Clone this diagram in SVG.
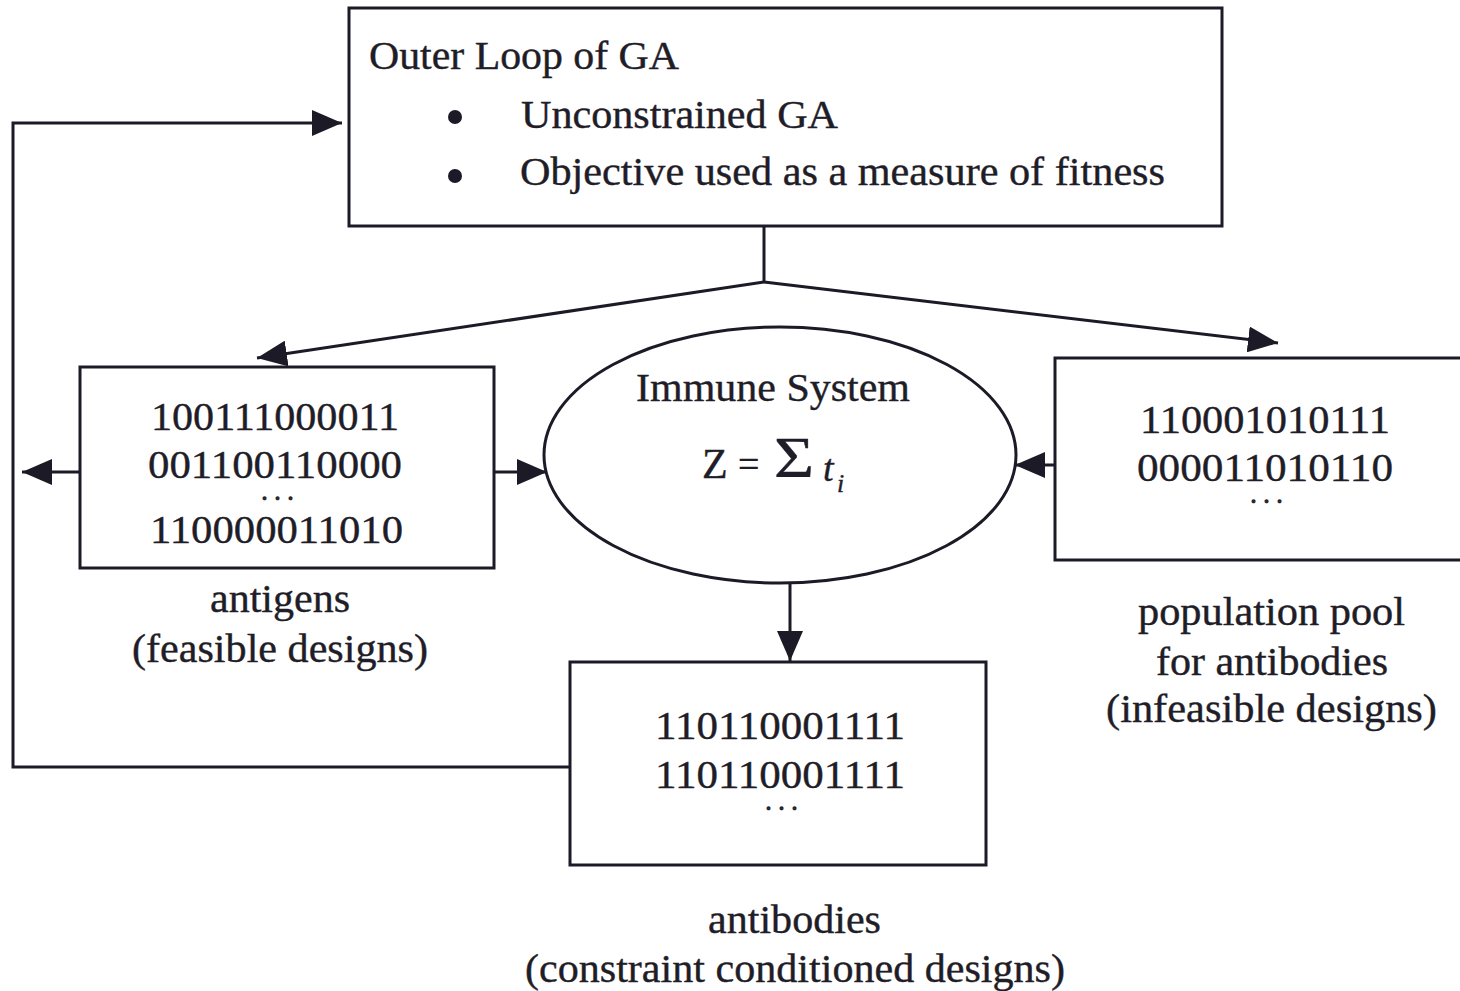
<svg xmlns="http://www.w3.org/2000/svg" width="1460" height="991" viewBox="0 0 1460 991">
  <defs>
    <marker id="arrow" viewBox="0 0 30 26" refX="30" refY="13" markerWidth="30" markerHeight="26" markerUnits="userSpaceOnUse" orient="auto">
      <path d="M0,0 L30,13 L0,26 Z" fill="#1c1a26"/>
    </marker>
    <style>
      .box { fill: #ffffff; stroke: #1c1a26; stroke-width: 3; }
      .line { fill: none; stroke: #1c1a26; stroke-width: 3; }
      .t { font-family: "Liberation Serif", "Times New Roman", serif; fill: #1f1d28; stroke: #1f1d28; stroke-width: 0.4; }
      .s40 { font-size: 40px; }
      .s41 { font-size: 41px; }
      .dots { font-size: 12px; letter-spacing: 10px; stroke-width: 2.6; stroke-linejoin: round; }
      .it { font-style: italic; }
    </style>
  </defs>

  <rect width="1460" height="991" fill="#ffffff"/>

  <!-- connectors -->
  <g id="connectors">
    <polyline class="line" points="570,767 13,767 13,123 342,123" marker-end="url(#arrow)"/>
    <polyline class="line" points="764,226 764,282"/>
    <line class="line" x1="764" y1="282" x2="257" y2="358" marker-end="url(#arrow)"/>
    <line class="line" x1="764" y1="282" x2="1278" y2="343" marker-end="url(#arrow)"/>
    <line class="line" x1="80" y1="472" x2="22" y2="472" marker-end="url(#arrow)"/>
    <line class="line" x1="494" y1="472" x2="547" y2="472" marker-end="url(#arrow)"/>
    <line class="line" x1="1055" y1="465" x2="1015" y2="465" marker-end="url(#arrow)"/>
    <line class="line" x1="790" y1="583" x2="790" y2="661" marker-end="url(#arrow)"/>
  </g>

  <!-- outer loop of the genetic algorithm -->
  <g id="outer-loop">
    <rect class="box" x="349" y="8" width="873" height="218"/>
    <text class="t s40" x="369" y="69" textLength="310" lengthAdjust="spacingAndGlyphs">Outer Loop of GA</text>
    <circle cx="455" cy="117" r="7" fill="#1c1a26"/>
    <text class="t s40" x="521" y="128" textLength="317" lengthAdjust="spacingAndGlyphs">Unconstrained GA</text>
    <circle cx="455" cy="176" r="7" fill="#1c1a26"/>
    <text class="t s40" x="520" y="185" textLength="645" lengthAdjust="spacingAndGlyphs">Objective used as a measure of fitness</text>
  </g>

  <!-- antigens: feasible designs -->
  <g id="antigens">
    <rect class="box" x="80" y="367" width="414" height="201"/>
    <text class="t s41" x="151" y="430" textLength="248" lengthAdjust="spacingAndGlyphs">100111000011</text>
    <text class="t s41" x="148" y="478" textLength="254" lengthAdjust="spacingAndGlyphs">001100110000</text>
    <text class="t dots" x="263" y="499">...</text>
    <text class="t s41" x="150" y="543" textLength="253" lengthAdjust="spacingAndGlyphs">110000011010</text>
    <text class="t s41" x="210" y="612" textLength="140" lengthAdjust="spacingAndGlyphs">antigens</text>
    <text class="t s41" x="132" y="662" textLength="296" lengthAdjust="spacingAndGlyphs">(feasible designs)</text>
  </g>

  <!-- immune system -->
  <g id="immune-system">
    <ellipse class="box" cx="780" cy="455" rx="236" ry="128"/>
    <text class="t s41" x="636" y="401" textLength="274" lengthAdjust="spacingAndGlyphs">Immune System</text>
    <text class="t" x="702" y="478" font-size="42">Z</text>
    <text class="t" x="738" y="477" font-size="38">=</text>
    <text class="t" x="774" y="477" font-size="56" textLength="40" lengthAdjust="spacingAndGlyphs">Σ</text>
    <text class="t it" x="823" y="481" font-size="38">t</text>
    <text class="t it" x="837" y="492" font-size="26">i</text>
  </g>

  <!-- population pool for antibodies -->
  <g id="population-pool">
    <rect class="box" x="1055" y="358" width="420" height="202"/>
    <text class="t s41" x="1140" y="433" textLength="250" lengthAdjust="spacingAndGlyphs">110001010111</text>
    <text class="t s41" x="1137" y="481" textLength="256" lengthAdjust="spacingAndGlyphs">000011010110</text>
    <text class="t dots" x="1252" y="502">...</text>
    <text class="t s41" x="1138" y="625" textLength="267" lengthAdjust="spacingAndGlyphs">population pool</text>
    <text class="t s41" x="1156" y="675" textLength="232" lengthAdjust="spacingAndGlyphs">for antibodies</text>
    <text class="t s41" x="1106" y="722" textLength="331" lengthAdjust="spacingAndGlyphs">(infeasible designs)</text>
  </g>

  <!-- antibodies: constraint conditioned designs -->
  <g id="antibodies">
    <rect class="box" x="570" y="662" width="416" height="203"/>
    <text class="t s41" x="655" y="739" textLength="250" lengthAdjust="spacingAndGlyphs">110110001111</text>
    <text class="t s41" x="655" y="788" textLength="250" lengthAdjust="spacingAndGlyphs">110110001111</text>
    <text class="t dots" x="767" y="809">...</text>
    <text class="t s41" x="708" y="933" textLength="173" lengthAdjust="spacingAndGlyphs">antibodies</text>
    <text class="t s41" x="525" y="982" textLength="540" lengthAdjust="spacingAndGlyphs">(constraint conditioned designs)</text>
  </g>
</svg>
